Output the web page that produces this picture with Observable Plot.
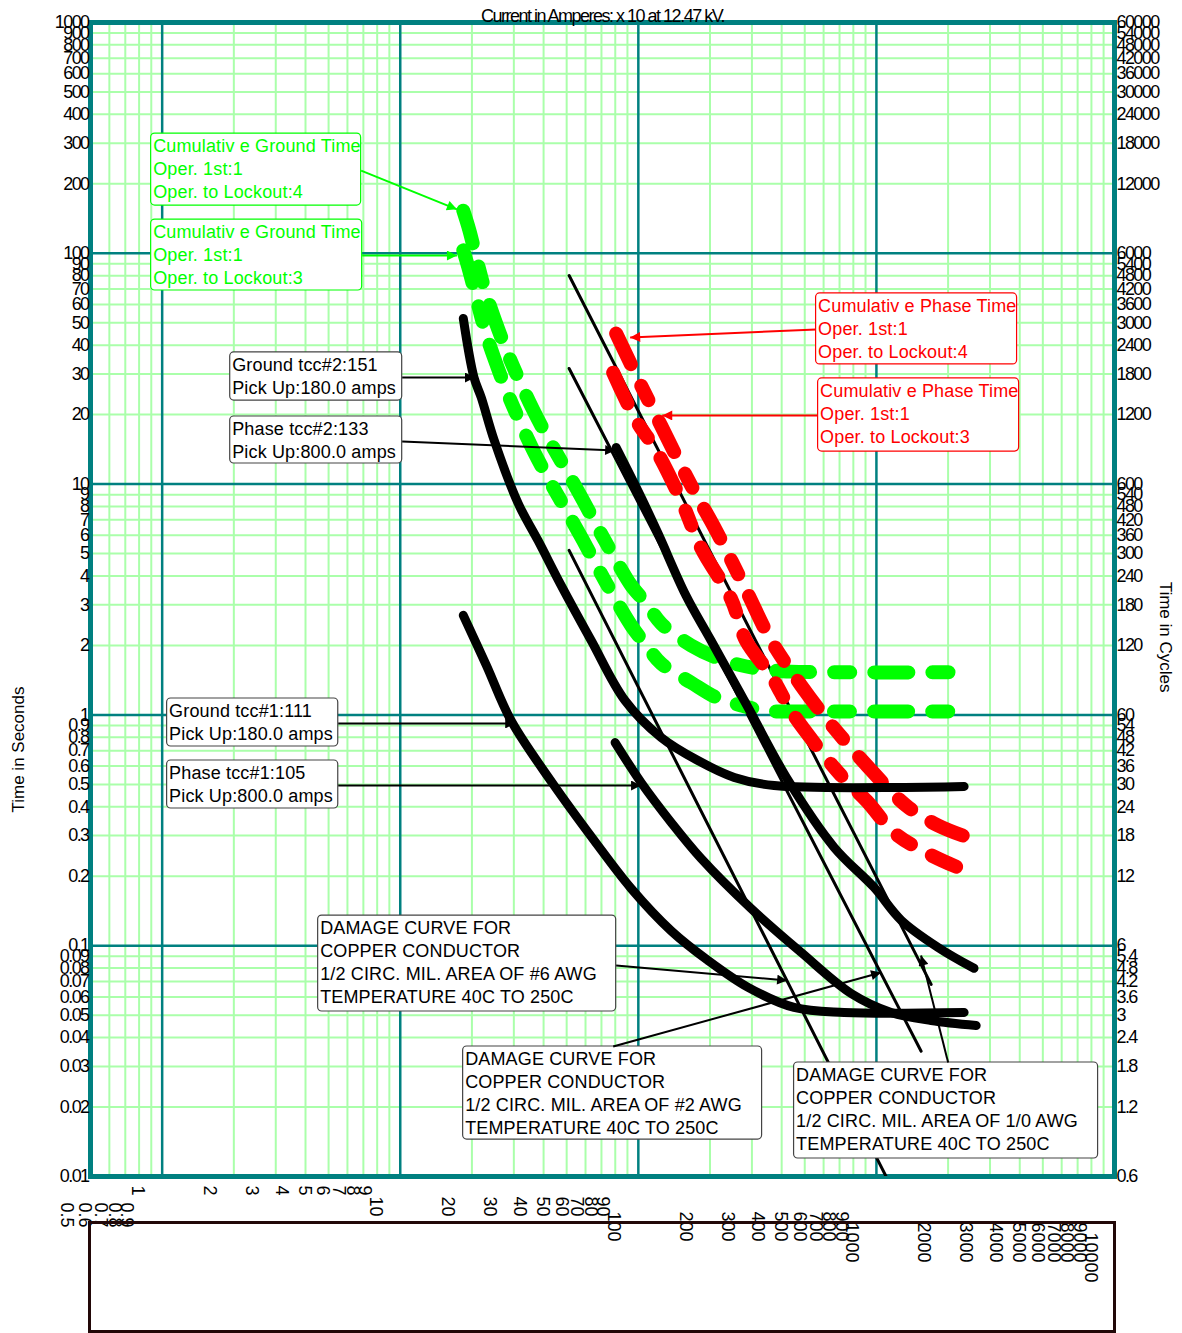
<!DOCTYPE html>
<html><head><meta charset="utf-8">
<script src="https://cdn.jsdelivr.net/npm/d3@7"></script>
<script src="https://cdn.jsdelivr.net/npm/@observablehq/plot@0.6"></script>
<style>
html,body{margin:0;padding:0;background:#fff;overflow:hidden;}
#wrap{position:relative;width:1182px;height:1333px;overflow:hidden;font-family:"Liberation Sans",Arial,sans-serif;}
#chart{position:absolute;left:0;top:0;}
#legendBox{position:absolute;left:88px;top:1221px;width:1022px;height:106px;border:3px solid #220808;pointer-events:none;}
g[aria-description="tick-label"] text{letter-spacing:-1.6px;}
g[aria-description="chart-title"] text{letter-spacing:-1.5px;}
g[aria-description="note-text"] text{letter-spacing:0.15px;}
</style></head>
<body><div id="wrap"><div id="chart"></div><div id="legendBox"></div></div>
<script>
// ---------- axes / grid values ----------
const xMajor = [1, 10, 100, 1000];
const xMinor = [0.5,0.6,0.7,0.8,0.9, 2,3,4,5,6,7,8,9, 20,30,40,50,60,70,80,90,
                200,300,400,500,600,700,800,900, 2000,3000,4000,5000,6000,7000,8000,9000];
const yMajor = [0.1, 1, 10, 100];
const yMinor = [0.02,0.03,0.04,0.05,0.06,0.07,0.08,0.09, 0.2,0.3,0.4,0.5,0.6,0.7,0.8,0.9,
                2,3,4,5,6,7,8,9, 20,30,40,50,60,70,80,90, 200,300,400,500,600,700,800,900];
const yTickLabels = [0.01,0.02,0.03,0.04,0.05,0.06,0.07,0.08,0.09, 0.1,0.2,0.3,0.4,0.5,0.6,0.7,0.8,0.9,
                     1,2,3,4,5,6,7,8,9, 10,20,30,40,50,60,70,80,90, 100,200,300,400,500,600,700,800,900, 1000];
const xLabelsDecimal = [0.5,0.6,0.7,0.8,0.9];
const xLabels1 = [1,2,3,4,5,6,7,8,9];
const xLabels2 = [10,20,30,40,50,60,70,80,90];
const xLabels3 = [100,200,300,400,500,600,700,800,900];
const xLabels4 = [1000,2000,3000,4000,5000,6000,7000,8000,9000];
const xLabels5 = [10000];
const titleText = "Current in Amperes: x 10 at 12.47 kV.";
const leftTitle = "Time in Seconds";
const rightTitle = "Time in Cycles";

// ---------- curves (amps, seconds) ----------
const groundTcc2Amps = [18.4,20.4,21.9,24.8,31.3,37.9,47.4,63.4,87.9,124.7,178,253,372,2335];
const groundTcc2Sec  = [52.2,29.0,23.7,15.5,8.24,5.70,3.64,2.10,1.154,0.798,0.634,0.536,0.494,0.490];
const phaseTcc2Amps  = [80.7,102.8,121,158.5,202,289,426,664,977,1270,1816,2570];
const phaseTcc2Sec   = [14.4,8.75,6.11,3.29,2.10,1.077,0.520,0.267,0.179,0.129,0.0983,0.0798];
const groundTcc1Amps = [18.4,23.0,29.2,43.4,65.2,93.3,137.4,196,289,451,731,2335];
const groundTcc1Sec  = [2.70,1.64,0.946,0.5095,0.286,0.177,0.116,0.0864,0.066,0.054,0.0514,0.0514];
const phaseTcc1Amps  = [79.9,102.7,137.4,183.6,297.6,483,783,1153,1698,2624];
const phaseTcc1Sec   = [0.759,0.5095,0.342,0.2386,0.1449,0.0935,0.0621,0.0514,0.0474,0.0451];

const groundCum4Amps = [18.4,19.5,21.0,22.7,25.0,27.9,31.6,36.2,42.2,49.8,58.6,68.5,80.7,93.3,108,124.7,166.7,216,270,344,438,2162];
const groundCum4Sec  = [153,126,93,69,51.2,38.0,28.2,20.9,15.5,11.5,8.50,6.30,4.67,3.64,3.04,2.49,2.00,1.76,1.64,1.57,1.54,1.53];
const groundCum3Amps = [18.4,19.5,21.0,22.7,25.0,27.9,31.6,36.2,42.2,49.8,58.6,68.5,80.7,93.3,108,124.7,166.7,216,270,344,438,2225];
const groundCum3Sec  = [103,84,62.5,46.3,34.4,25.5,18.9,14.0,10.4,7.70,5.70,4.23,3.13,2.44,2.00,1.67,1.38,1.18,1.10,1.04,1.035,1.035];
const phaseCum4Amps  = [80.7,102.8,124.7,166.7,212,284,361,483,615,888,1333,1816,2624];
const phaseCum4Sec   = [44.9,26.7,17.9,9.86,6.30,3.46,2.10,1.34,0.965,0.622,0.405,0.332,0.286];
const phaseCum3Amps  = [78.4,97.9,118.8,151.3,184,245,283,361,438,547,711,914,1187,1617,2161];
const phaseCum3Sec   = [30.4,18.9,14.0,8.50,5.26,3.19,2.10,1.48,1.04,0.759,0.546,0.422,0.309,0.253,0.220];

// damage curves (straight I^2t lines): start / end
const damage6Amps  = [51.2, 1098];  const damage6Sec  = [5.16, 0.01];
const damage2Amps  = [51.2, 1541];  const damage2Sec  = [31.7, 0.0349];
const damage10Amps = [51.2, 1698];  const damage10Sec = [80.1, 0.068];

// ---------- annotations (box corners and arrow ends in amps / seconds) ----------
const greenNotes = [
  {text:"Cumulativ e Ground Time\nOper. 1st:1\nOper. to Lockout:4", x1:0.899, x2:6.85, y1:330, y2:161,
   ax1:6.85, ay1:228, ax2:17.3, ay2:155},
  {text:"Cumulativ e Ground Time\nOper. 1st:1\nOper. to Lockout:3", x1:0.899, x2:6.92, y1:140, y2:69,
   ax1:6.92, ay1:97.8, ax2:17.3, ay2:97.8}
];
const redNotes = [
  {text:"Cumulativ e Phase Time\nOper. 1st:1\nOper. to Lockout:4", x1:558, x2:3898, y1:67.0, y2:33.0,
   ax1:558, ay1:46.8, ax2:92.4, ay2:43.2},
  {text:"Cumulativ e Phase Time\nOper. 1st:1\nOper. to Lockout:3", x1:569, x2:3975, y1:28.7, y2:13.84,
   ax1:569, ay1:19.83, ax2:126, ay2:19.83}
];
const blackNotes = [
  {text:"Ground tcc#2:151\nPick Up:180.0 amps", x1:1.931, x2:10.19, y1:37.2, y2:23.0,
   ax1:10.19, ay1:28.96, ax2:20.6, ay2:28.96},
  {text:"Phase tcc#2:133\nPick Up:800.0 amps", x1:1.931, x2:10.19, y1:19.63, y2:12.28,
   ax1:10.19, ay1:15.30, ax2:79.9, ay2:13.98},
  {text:"Ground tcc#1:111\nPick Up:180.0 amps", x1:1.049, x2:5.49, y1:1.178, y2:0.7296,
   ax1:5.49, ay1:0.918, ax2:30.4, ay2:0.918},
  {text:"Phase tcc#1:105\nPick Up:800.0 amps", x1:1.049, x2:5.49, y1:0.6346, y2:0.393,
   ax1:5.49, ay1:0.4943, ax2:102.7, ay2:0.4943},
  {text:"DAMAGE CURVE FOR\nCOPPER CONDUCTOR\n1/2 CIRC. MIL. AREA OF #6 AWG\nTEMPERATURE 40C TO 250C", x1:4.52, x2:80.7, y1:0.1351, y2:0.05187,
   ax1:80.7, ay1:0.08208, ax2:421.7, ay2:0.07066},
  {text:"DAMAGE CURVE FOR\nCOPPER CONDUCTOR\n1/2 CIRC. MIL. AREA OF #2 AWG\nTEMPERATURE 40C TO 250C", x1:18.37, x2:331, y1:0.03658, y2:0.01446,
   ax1:78.4, ay1:0.03658, ax2:1046, ay2:0.07653},
  {text:"DAMAGE CURVE FOR\nCOPPER CONDUCTOR\n1/2 CIRC. MIL. AREA OF 1/0 AWG\nTEMPERATURE 40C TO 250C", x1:451, x2:8533, y1:0.03118, y2:0.01197,
   ax1:2001, ay1:0.03118, ax2:1540, ay2:0.0907}
];

// ---------- build ----------
const pts = (xs, ys) => xs.map((x, i) => ({x, y: ys[i]}));
const fmt = d => String(+(+d).toPrecision(6));
const fmt60 = d => String(+(d * 60).toPrecision(6));

const GREEN = "#00ff00", RED = "#ff0000", TEAL = "#008080", LIGHT = "#aaffaa";

const thick = {x: "x", y: "y", stroke: "black", strokeWidth: 9, strokeLinecap: "round", strokeLinejoin: "round", curve: "catmull-rom"};
const dashed = c => ({x: "x", y: "y", stroke: c, strokeWidth: 14, strokeLinecap: "round", strokeLinejoin: "round",
                      strokeDasharray: "34,24,16,24", curve: "catmull-rom"});
const thin = {x: "x", y: "y", stroke: "black", strokeWidth: 3, strokeLinecap: "round"};

const noteBox = (notes, stroke) =>
  Plot.rect(notes, {x1: "x1", x2: "x2", y1: "y1", y2: "y2", fill: "white", stroke, strokeWidth: 1.2, rx: 4});
const noteText = (notes, color) =>
  Plot.text(notes, {x: "x1", y: "y1", text: "text", fill: color, textAnchor: "start", lineAnchor: "top",
                    dx: 2, dy: 2, fontSize: 18, lineHeight: 23 / 18, ariaDescription: "note-text"});
const noteArrow = (notes, color, name) =>
  Plot.link(notes, {x1: "ax1", y1: "ay1", x2: "ax2", y2: "ay2", stroke: color, strokeWidth: 2, ariaDescription: "arrow-" + name});

const xLabelGroups = [
  [xLabelsDecimal, 26], [xLabels1, 9], [xLabels2, 20], [xLabels3, 35], [xLabels4, 46], [xLabels5, 56]
];

const plot = Plot.plot({
  width: 1182, height: 1333,
  marginLeft: 90, marginRight: 68, marginTop: 22, marginBottom: 157,
  style: {fontFamily: "'Liberation Sans', Arial, sans-serif", background: "transparent", color: "black"},
  x: {type: "log", domain: [0.5, 10000], axis: null},
  y: {type: "log", domain: [0.01, 1000], axis: null},
  marks: [
    Plot.ruleX(xMinor, {stroke: LIGHT, strokeWidth: 2}),
    Plot.ruleY(yMinor, {stroke: LIGHT, strokeWidth: 2}),
    Plot.ruleX(xMajor, {stroke: TEAL, strokeWidth: 2.5}),
    Plot.ruleY(yMajor, {stroke: TEAL, strokeWidth: 2.5}),
    Plot.frame({stroke: TEAL, strokeWidth: 5}),

    // y tick labels (seconds, left) and cycles (right)
    Plot.text(yTickLabels, {y: d => d, frameAnchor: "left", text: fmt, textAnchor: "end", dx: -2, fontSize: 18,
                            ariaDescription: "tick-label"}),
    Plot.text(yTickLabels, {y: d => d, frameAnchor: "right", text: fmt60, textAnchor: "start", dx: 2, fontSize: 18,
                            ariaDescription: "tick-label"}),
    // x tick labels (rotated)
    ...xLabelGroups.map(([vals, dy]) =>
      Plot.text(vals, {x: d => d, frameAnchor: "bottom", text: fmt, rotate: 90, textAnchor: "start",
                       dx: -30, dy, fontSize: 18})),

    Plot.text([titleText], {frameAnchor: "top", text: d => d, dy: -13, fontSize: 18, ariaDescription: "chart-title"}),
    Plot.text([leftTitle], {frameAnchor: "left", text: d => d, dx: -72, dy: 213, rotate: -90, fontSize: 17}),
    Plot.text([rightTitle], {frameAnchor: "right", text: d => d, dx: 51, dy: 93, rotate: 90, fontSize: 17}),

    // damage curves
    Plot.line(pts(damage6Amps, damage6Sec), {...thin, clip: true}),
    Plot.line(pts(damage2Amps, damage2Sec), thin),
    Plot.line(pts(damage10Amps, damage10Sec), thin),

    // red pointer lines sit under the red curves
    noteArrow(redNotes, RED, "red"),

    // cumulative curves
    Plot.line(pts(groundCum4Amps, groundCum4Sec), dashed(GREEN)),
    Plot.line(pts(groundCum3Amps, groundCum3Sec), dashed(GREEN)),
    Plot.line(pts(phaseCum4Amps, phaseCum4Sec), dashed(RED)),
    Plot.line(pts(phaseCum3Amps, phaseCum3Sec), dashed(RED)),

    // device tccs
    Plot.line(pts(groundTcc2Amps, groundTcc2Sec), thick),
    Plot.line(pts(phaseTcc2Amps, phaseTcc2Sec), thick),
    Plot.line(pts(groundTcc1Amps, groundTcc1Sec), thick),
    Plot.line(pts(phaseTcc1Amps, phaseTcc1Sec), thick),

    noteBox(greenNotes, GREEN), noteText(greenNotes, GREEN), noteArrow(greenNotes, GREEN, "green"),
    noteBox(redNotes, RED), noteText(redNotes, RED),
    noteBox(blackNotes, "#444"), noteText(blackNotes, "black"), noteArrow(blackNotes, "black", "black")
  ]
});

// filled arrow heads
const svg = d3.select(plot);
const defs = svg.insert("defs", ":first-child");
for (const [name, color] of [["green", GREEN], ["red", RED], ["black", "black"]]) {
  defs.append("marker").attr("id", "ah-" + name).attr("viewBox", "0 0 10 10")
    .attr("refX", 10).attr("refY", 5).attr("markerUnits", "userSpaceOnUse")
    .attr("markerWidth", 13).attr("markerHeight", 10).attr("orient", "auto")
    .append("path").attr("d", "M0,0L10,5L0,10z").attr("fill", color);
  svg.selectAll(`g[aria-description="arrow-${name}"] path`).attr("marker-end", `url(#ah-${name})`);
}
document.getElementById("chart").appendChild(plot);
</script></body></html>
